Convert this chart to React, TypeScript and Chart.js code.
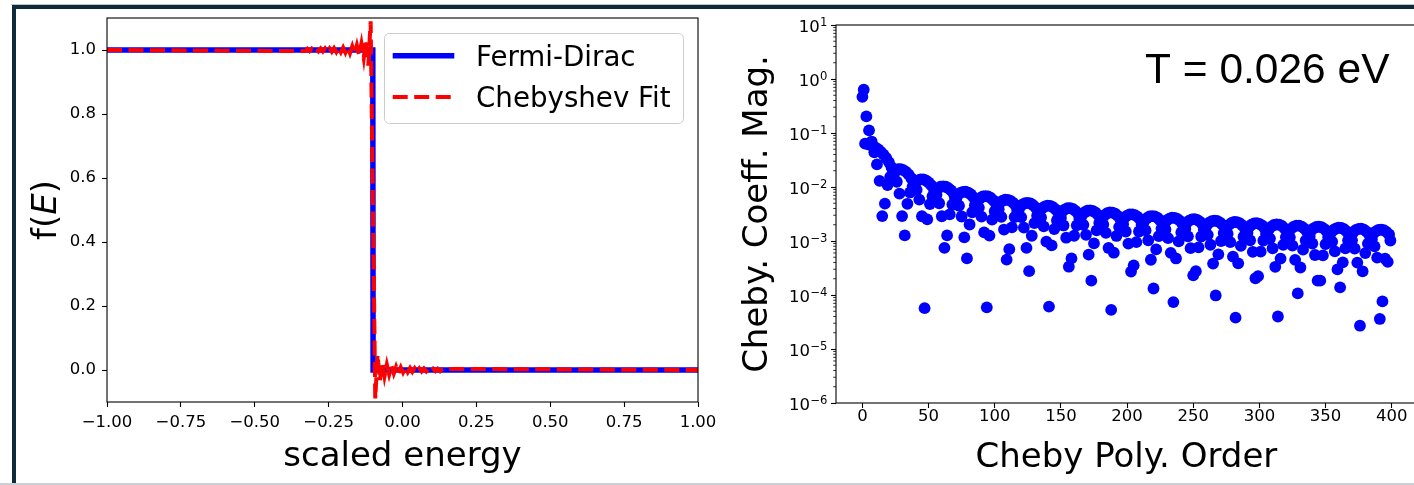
import React, { useEffect, useRef } from 'react';
import { Chart, registerables } from 'chart.js';

Chart.register(...registerables);

// ---------------- data ----------------
// Left panel: occupation f(E) versus scaled energy
const fermiEnergy = [-1.0, -0.1005, -0.0995, 1.0];
const fermiOcc = [1.0, 1.0, 0.0, 0.0];

const chebEnergy = [
  -1.0,
  -0.3295, -0.3221, -0.3146, -0.3072, -0.2997, -0.2922, -0.2847, -0.2771, -0.2696, -0.262,
  -0.2544, -0.2468, -0.2392, -0.2316, -0.2239, -0.2163, -0.2086, -0.2009, -0.1932, -0.1855,
  -0.1778, -0.17, -0.1623, -0.1545, -0.1468, -0.139, -0.1312, -0.1234, -0.1156, -0.1078,
  -0.1,
  -0.0922, -0.0844, -0.0765, -0.0687, -0.0609, -0.053, -0.0452, -0.0373, -0.0295, -0.0216,
  -0.0138, -0.0059, 0.0019, 0.0098, 0.0176, 0.0255, 0.0333, 0.0412, 0.049, 0.0569,
  0.0647, 0.0726, 0.0804, 0.0882, 0.096, 0.1039, 0.1117, 0.1195, 0.1273, 0.135,
  1.0,
];
const chebOcc = [
  1.0,
  0.9966, 1.0035, 0.9964, 1.0038, 0.9961, 1.0041, 0.9958, 1.0044, 0.9954, 1.0048,
  0.9949, 1.0053, 0.9944, 1.006, 0.9937, 1.0068, 0.9928, 1.0078, 0.9916, 1.0092,
  0.9899, 1.0112, 0.9874, 1.0144, 0.9832, 1.0201, 0.975, 1.0331, 0.9514, 1.0895,
  0.5,
  -0.0895, 0.0486, -0.0331, 0.025, -0.0201, 0.0168, -0.0144, 0.0126, -0.0112, 0.0101,
  -0.0092, 0.0084, -0.0078, 0.0072, -0.0068, 0.0063, -0.006, 0.0056, -0.0053, 0.0051,
  -0.0048, 0.0046, -0.0044, 0.0042, -0.0041, 0.0039, -0.0038, 0.0036, -0.0035, 0.0034,
  0.0,
];

// Right panel: |Chebyshev coefficient| for orders 0..399
const coeffMag = [
  0.468, 0.633, 0.0634, 0.203, 0.0621, 0.112, 0.06, 0.0695, 0.0572, 0.0439,
  0.0537, 0.0262, 0.0495, 0.013, 0.0448, 0.00289, 0.0398, 0.00492, 0.0344, 0.0109,
  0.0289, 0.0154, 0.0233, 0.0186, 0.0178, 0.0205, 0.0125, 0.0214, 0.00753, 0.0213,
  0.00289, 0.0205, 0.00127, 0.019, 0.00489, 0.017, 0.00792, 0.0145, 0.0103, 0.0117,
  0.0121, 0.00885, 0.0133, 0.00585, 0.0138, 0.00287, 0.0138, 0.000057, 0.0132, 0.00252,
  0.0122, 0.00482, 0.0108, 0.00675, 0.00904, 0.00828, 0.00709, 0.00938, 0.005, 0.0101,
  0.00287, 0.0103, 0.000746, 0.0101, 0.00127, 0.00954, 0.00311, 0.00865, 0.00472, 0.00746,
  0.00606, 0.00606, 0.00708, 0.0045, 0.00778, 0.00284, 0.00813, 0.00117, 0.00816, 0.000476,
  0.00785, 0.00202, 0.00727, 0.00341, 0.00643, 0.0046, 0.00536, 0.00555, 0.00414, 0.00624,
  0.00282, 0.00667, 0.00144, 0.0068, 0.000059, 0.00667, 0.00126, 0.00629, 0.00248, 0.00567,
  0.00355, 0.00485, 0.00444, 0.00388, 0.00513, 0.00279, 0.00558, 0.00163, 0.0058, 0.000451,
  0.00579, 0.000705, 0.00554, 0.00179, 0.00509, 0.00277, 0.00446, 0.0036, 0.00367, 0.00427,
  0.00276, 0.00475, 0.00177, 0.00502, 0.000744, 0.00509, 0.000276, 0.00495, 0.00125, 0.00463,
  0.00215, 0.00413, 0.00294, 0.00348, 0.00359, 0.00272, 0.00407, 0.00187, 0.00439, 0.000971,
  0.00452, 0.000061, 0.00447, 0.000828, 0.00424, 0.00166, 0.00385, 0.0024, 0.00332, 0.00302,
  0.00268, 0.00352, 0.00194, 0.00386, 0.00115, 0.00404, 0.000334, 0.00405, 0.000476, 0.00391,
  0.00125, 0.00361, 0.00195, 0.00318, 0.00256, 0.00264, 0.00305, 0.00199, 0.00341, 0.0013,
  0.00363, 0.000559, 0.0037, 0.000184, 0.00362, 0.000902, 0.0034, 0.00157, 0.00305, 0.00216,
  0.00259, 0.00264, 0.00203, 0.00302, 0.00141, 0.00327, 0.000743, 0.00338, 0.000053, 0.00336,
  0.000607, 0.0032, 0.00124, 0.00292, 0.00181, 0.00253, 0.00229, 0.00205, 0.00268, 0.0015,
  0.00295, 0.000896, 0.0031, 0.000271, 0.00312, 0.000354, 0.00302, 0.00095, 0.0028, 0.0015,
  0.00248, 0.00198, 0.00206, 0.00237, 0.00157, 0.00266, 0.00103, 0.00284, 0.00045, 0.0029,
  0.000132, 0.00285, 0.000698, 0.00269, 0.00123, 0.00242, 0.0017, 0.00206, 0.00209, 0.00163,
  0.0024, 0.00113, 0.0026, 0.000604, 0.0027, 0.000074, 0.00269, 0.000475, 0.00257, 0.000983,
  0.00236, 0.00144, 0.00205, 0.00184, 0.00166, 0.00215, 0.00122, 0.00238, 0.000737, 0.00251,
  0.000231, 0.00254, 0.000276, 0.00246, 0.000764, 0.00229, 0.00121, 0.00203, 0.00161, 0.00169,
  0.00193, 0.0013, 0.00218, 0.000852, 0.00233, 0.000382, 0.00239, 0.000098, 0.00235, 0.000566,
  0.00222, 0.001, 0.00201, 0.0014, 0.00171, 0.00172, 0.00136, 0.00199, 0.000953, 0.00216,
  0.000514, 0.00225, 0.000038, 0.00224, 0.000386, 0.00215, 0.000812, 0.00197, 0.0012, 0.00172,
  0.00153, 0.0014, 0.0018, 0.00103, 0.002, 0.00063, 0.00211, 0.000204, 0.00214, 0.000223,
  0.00208, 0.000635, 0.00194, 0.00102, 0.00172, 0.00135, 0.00144, 0.00163, 0.00111, 0.00184,
  0.000733, 0.00198, 0.000333, 0.00203, 0.00004, 0.002, 0.000473, 0.0019, 0.000848, 0.00171,
  0.00118, 0.00147, 0.00147, 0.00117, 0.00169, 0.000821, 0.00185, 0.000448, 0.00192, 0.000107,
  0.00193, 0.000323, 0.00185, 0.00069, 0.0017, 0.00102, 0.00149, 0.00131, 0.00121, 0.00155,
  0.000899, 0.00172, 0.000551, 0.00182, 0.000185, 0.00185, 0.000184, 0.0018, 0.000541, 0.00168,
  0.000874, 0.0015, 0.00117, 0.00125, 0.00141, 0.000967, 0.0016, 0.000642, 0.00171, 0.000298,
  0.00176, 0.000138, 0.00174, 0.000403, 0.00165, 0.000731, 0.0015, 0.00103, 0.00129, 0.00128,
  0.00103, 0.00147, 0.000725, 0.00161, 0.000399, 0.00168, 0.000027, 0.00169, 0.000275, 0.00162,
  0.000597, 0.00149, 0.000892, 0.00131, 0.00115, 0.00107, 0.00136, 0.000796, 0.00151, 0.000491,
  0.0016, 0.000036, 0.00162, 0.000076, 0.00159, 0.00047, 0.00148, 0.00041, 0.00132, 0.00102,
];

// ticks
const energyTicks = [-1, -0.75, -0.5, -0.25, 0, 0.25, 0.5, 0.75, 1];
const energyTickLabels = ['\u22121.00', '\u22120.75', '\u22120.50', '\u22120.25', '0.00', '0.25', '0.50', '0.75', '1.00'];
const occTicks = [0, 0.2, 0.4, 0.6, 0.8, 1.0];
const occTickLabels = ['0.0', '0.2', '0.4', '0.6', '0.8', '1.0'];
const orderTicks = [0, 50, 100, 150, 200, 250, 300, 350, 400];
const orderTickLabels = ['0', '50', '100', '150', '200', '250', '300', '350', '400'];
const magTicks = [1e-6, 1e-5, 1e-4, 1e-3, 1e-2, 1e-1, 1, 10];
const magTickBase = '10';
const magTickExponents = ['\u22126', '\u22125', '\u22124', '\u22123', '\u22122', '\u22121', '0', '1'];
const magMinorMultipliers = [2, 3, 4, 5, 6, 7, 8, 9];

// texts
const seriesLabels = ['Fermi-Dirac', 'Chebyshev Fit'];
const leftXTitle = 'scaled energy';
const leftYTitleParts = [
  { text: 'f(', italic: false },
  { text: 'E', italic: true },
  { text: ')', italic: false },
];
const rightXTitle = 'Cheby Poly. Order';
const rightYTitle = 'Cheby. Coeff. Mag.';
const tempLabel = 'T = 0.026 eV';

// ---------------- helpers ----------------
const FAMILY = '"DejaVu Sans"';
const TICK_FONT = { family: 'DejaVu Sans', size: 16.5 };

function fixedAxis(size: number, horizontal: boolean) {
  return (scale: any) => {
    if (horizontal) scale.height = size;
    else scale.width = size;
    scale.paddingLeft = 0;
    scale.paddingRight = 0;
    scale.paddingTop = 0;
    scale.paddingBottom = 0;
  };
}
function setTicks(values: number[]) {
  return (scale: any) => {
    scale.ticks = values.map((v) => ({ value: v }));
  };
}

function drawRotated(ctx: CanvasRenderingContext2D, parts: { text: string; italic: boolean }[], bx: number, cy: number, size: number) {
  ctx.save();
  ctx.translate(bx, cy);
  ctx.rotate(-Math.PI / 2);
  ctx.textAlign = 'left';
  ctx.textBaseline = 'alphabetic';
  ctx.fillStyle = '#000';
  let total = 0;
  parts.forEach((p) => {
    ctx.font = `${p.italic ? 'italic ' : ''}${size}px ${FAMILY}`;
    total += ctx.measureText(p.text).width;
  });
  let x = -total / 2;
  parts.forEach((p) => {
    ctx.font = `${p.italic ? 'italic ' : ''}${size}px ${FAMILY}`;
    ctx.fillText(p.text, x, 0);
    x += ctx.measureText(p.text).width;
  });
  ctx.restore();
}

const spinesPlugin = {
  id: 'spines',
  afterDatasetsDraw(chart: any, _args: any, opts: any) {
    const { ctx, chartArea: a } = chart;
    ctx.save();
    ctx.strokeStyle = '#000';
    ctx.lineWidth = 1.1;
    ctx.setLineDash([]);
    ctx.strokeRect(a.left, a.top, a.right - a.left, a.bottom - a.top);
    if (opts && opts.minorY) {
      const ys = chart.scales.y;
      ctx.lineWidth = 0.8;
      ctx.beginPath();
      magTicks.slice(0, -1).forEach((base) => {
        magMinorMultipliers.forEach((m) => {
          const p = ys.getPixelForValue(base * m);
          ctx.moveTo(a.left - 2.8, p);
          ctx.lineTo(a.left, p);
        });
      });
      ctx.stroke();
      // log tick labels: "10" with raised exponent
      ctx.fillStyle = '#000';
      ctx.textBaseline = 'alphabetic';
      ctx.textAlign = 'left';
      magTicks.forEach((v, i) => {
        const p = ys.getPixelForValue(v);
        ctx.font = `11.6px ${FAMILY}`;
        const ew = ctx.measureText(magTickExponents[i]).width;
        ctx.font = `16.5px ${FAMILY}`;
        const bw = ctx.measureText(magTickBase).width;
        const right = a.left - 8.5;
        const x0 = right - ew - bw - 0.5;
        ctx.fillText(magTickBase, x0, p + 7.3);
        ctx.font = `11.6px ${FAMILY}`;
        ctx.fillText(magTickExponents[i], x0 + bw + 0.5, p + 1.2);
      });
    }
    ctx.restore();
  },
};

const leftTextPlugin = {
  id: 'leftTexts',
  afterDraw(chart: any) {
    const { ctx, chartArea: a } = chart;
    ctx.save();
    ctx.fillStyle = '#000';
    ctx.font = `34px ${FAMILY}`;
    ctx.textAlign = 'center';
    ctx.textBaseline = 'alphabetic';
    ctx.fillText(leftXTitle, (a.left + a.right) / 2, 465.7);
    ctx.restore();
    drawRotated(ctx, leftYTitleParts, 56, (a.top + a.bottom) / 2, 34);

    // legend
    ctx.save();
    const bx = 384.5, by = 33.5, bw = 299, bh = 90, r = 5;
    ctx.beginPath();
    ctx.moveTo(bx + r, by);
    ctx.lineTo(bx + bw - r, by);
    ctx.arcTo(bx + bw, by, bx + bw, by + r, r);
    ctx.lineTo(bx + bw, by + bh - r);
    ctx.arcTo(bx + bw, by + bh, bx + bw - r, by + bh, r);
    ctx.lineTo(bx + r, by + bh);
    ctx.arcTo(bx, by + bh, bx, by + bh - r, r);
    ctx.lineTo(bx, by + r);
    ctx.arcTo(bx, by, bx + r, by, r);
    ctx.closePath();
    ctx.fillStyle = 'rgba(255,255,255,0.8)';
    ctx.fill();
    ctx.strokeStyle = '#cccccc';
    ctx.lineWidth = 1;
    ctx.stroke();
    const rows = [{ line: 55.7, base: 65.7 }, { line: 97, base: 106.7 }];
    chart.data.datasets.forEach((ds: any, i: number) => {
      const row = rows[i];
      ctx.beginPath();
      ctx.strokeStyle = ds.borderColor;
      ctx.lineWidth = ds.borderWidth;
      ctx.setLineDash(ds.borderDash || []);
      ctx.lineCap = 'butt';
      ctx.moveTo(392.7, row.line);
      ctx.lineTo(454.3, row.line);
      ctx.stroke();
      ctx.setLineDash([]);
      ctx.fillStyle = '#000';
      ctx.font = `27.7px ${FAMILY}`;
      ctx.textAlign = 'left';
      ctx.textBaseline = 'alphabetic';
      ctx.fillText(ds.label, 476, row.base);
    });
    ctx.restore();
  },
};

const rightTextPlugin = {
  id: 'rightTexts',
  afterDraw(chart: any) {
    const { ctx, chartArea: a } = chart;
    ctx.save();
    ctx.fillStyle = '#000';
    ctx.font = `34px ${FAMILY}`;
    ctx.textAlign = 'center';
    ctx.textBaseline = 'alphabetic';
    ctx.fillText(rightXTitle, (a.left + a.right) / 2, 466.5);
    ctx.font = `42.5px "Liberation Sans", Arial, sans-serif`;
    ctx.textAlign = 'left';
    ctx.fillText(tempLabel, 425, 83.3);
    ctx.restore();
    drawRotated(ctx, [{ text: rightYTitle, italic: false }], 47, (a.top + a.bottom) / 2, 34);
  },
};

function axisBase(extra: any) {
  return {
    border: { display: false },
    grid: { display: true, drawOnChartArea: false, drawTicks: true, tickLength: 5, tickWidth: 1.1, tickColor: '#000' },
    ...extra,
  };
}

export default function App() {
  const leftRef = useRef<HTMLCanvasElement | null>(null);
  const rightRef = useRef<HTMLCanvasElement | null>(null);

  useEffect(() => {
    const left = new Chart(leftRef.current as HTMLCanvasElement, {
      type: 'line',
      data: {
        datasets: [
          {
            label: seriesLabels[0],
            data: fermiEnergy.map((x, i) => ({ x, y: fermiOcc[i] })),
            borderColor: '#0000ff',
            borderWidth: 5.5,
            pointRadius: 0,
            tension: 0,
            order: 2,
          },
          {
            label: seriesLabels[1],
            data: chebEnergy.map((x, i) => ({ x, y: chebOcc[i] })),
            borderColor: '#ff0000',
            borderWidth: 4,
            borderDash: [15, 6.5],
            pointRadius: 0,
            tension: 0,
            order: 1,
          },
        ],
      } as any,
      options: {
        responsive: false,
        animation: false,
        devicePixelRatio: 1,
        events: [],
        layout: { padding: { left: 0, top: 18, right: 22, bottom: 0 }, autoPadding: false } as any,
        plugins: { legend: { display: false }, tooltip: { enabled: false }, spines: {} } as any,
        scales: {
          x: axisBase({
            type: 'linear',
            min: -1,
            max: 1,
            afterFit: fixedAxis(83, true),
            afterBuildTicks: setTicks(energyTicks),
            ticks: {
              autoSkip: false,
              maxRotation: 0,
              padding: 6.3,
              color: '#000',
              font: TICK_FONT,
              callback: (_v: any, i: number) => energyTickLabels[i],
            },
          }),
          y: axisBase({
            type: 'linear',
            min: -0.1,
            max: 1.1,
            afterFit: fixedAxis(107, false),
            afterBuildTicks: setTicks(occTicks),
            ticks: {
              autoSkip: false,
              padding: 6,
              color: '#000',
              font: TICK_FONT,
              callback: (_v: any, i: number) => occTickLabels[i],
            },
          }),
        },
      } as any,
      plugins: [spinesPlugin, leftTextPlugin],
    });

    const right = new Chart(rightRef.current as HTMLCanvasElement, {
      type: 'scatter',
      data: {
        datasets: [
          {
            label: 'coefficients',
            data: coeffMag.map((v, i) => ({ x: i, y: v })),
            backgroundColor: '#0000ff',
            borderColor: '#0000ff',
            borderWidth: 0,
            pointRadius: 5.9,
            pointHoverRadius: 5.9,
          },
        ],
      },
      options: {
        responsive: false,
        animation: false,
        devicePixelRatio: 1,
        events: [],
        layout: { padding: { left: 0, top: 25, right: 23.2, bottom: 0 }, autoPadding: false } as any,
        plugins: { legend: { display: false }, tooltip: { enabled: false }, spines: { minorY: true } } as any,
        scales: {
          x: axisBase({
            type: 'linear',
            min: -19.95,
            max: 418.95,
            afterFit: fixedAxis(82, true),
            afterBuildTicks: setTicks(orderTicks),
            ticks: {
              autoSkip: false,
              maxRotation: 0,
              padding: -1.5,
              color: '#000',
              font: TICK_FONT,
              callback: (_v: any, i: number) => orderTickLabels[i],
            },
          }),
          y: axisBase({
            type: 'logarithmic',
            min: 1e-6,
            max: 10,
            afterFit: fixedAxis(116, false),
            afterBuildTicks: setTicks(magTicks),
            ticks: {
              display: false,
              autoSkip: false,
              font: TICK_FONT,
            },
          }),
        },
      } as any,
      plugins: [spinesPlugin, rightTextPlugin],
    });

    return () => {
      left.destroy();
      right.destroy();
    };
  }, []);

  return (
    <div style={{ position: 'absolute', left: 0, top: 0, width: 1414, height: 485, background: '#fff', overflow: 'hidden' }}>
      <div style={{ position: 'absolute', left: 11, top: 4, width: 1410, height: 1, background: '#b9c4cb' }} />
      <div
        style={{
          position: 'absolute',
          left: 12,
          top: 5,
          width: 1420,
          height: 478,
          borderTop: '4px solid #0f2a3b',
          borderLeft: '4px solid #0f2a3b',
          boxSizing: 'border-box',
        }}
      />
      <div style={{ position: 'absolute', left: 0, top: 483, width: 1414, height: 2, background: '#c9d1d6' }} />
      <canvas ref={leftRef} width={720} height={485} style={{ position: 'absolute', left: 0, top: 0 }} />
      <canvas ref={rightRef} width={720} height={485} style={{ position: 'absolute', left: 720, top: 0 }} />
    </div>
  );
}
